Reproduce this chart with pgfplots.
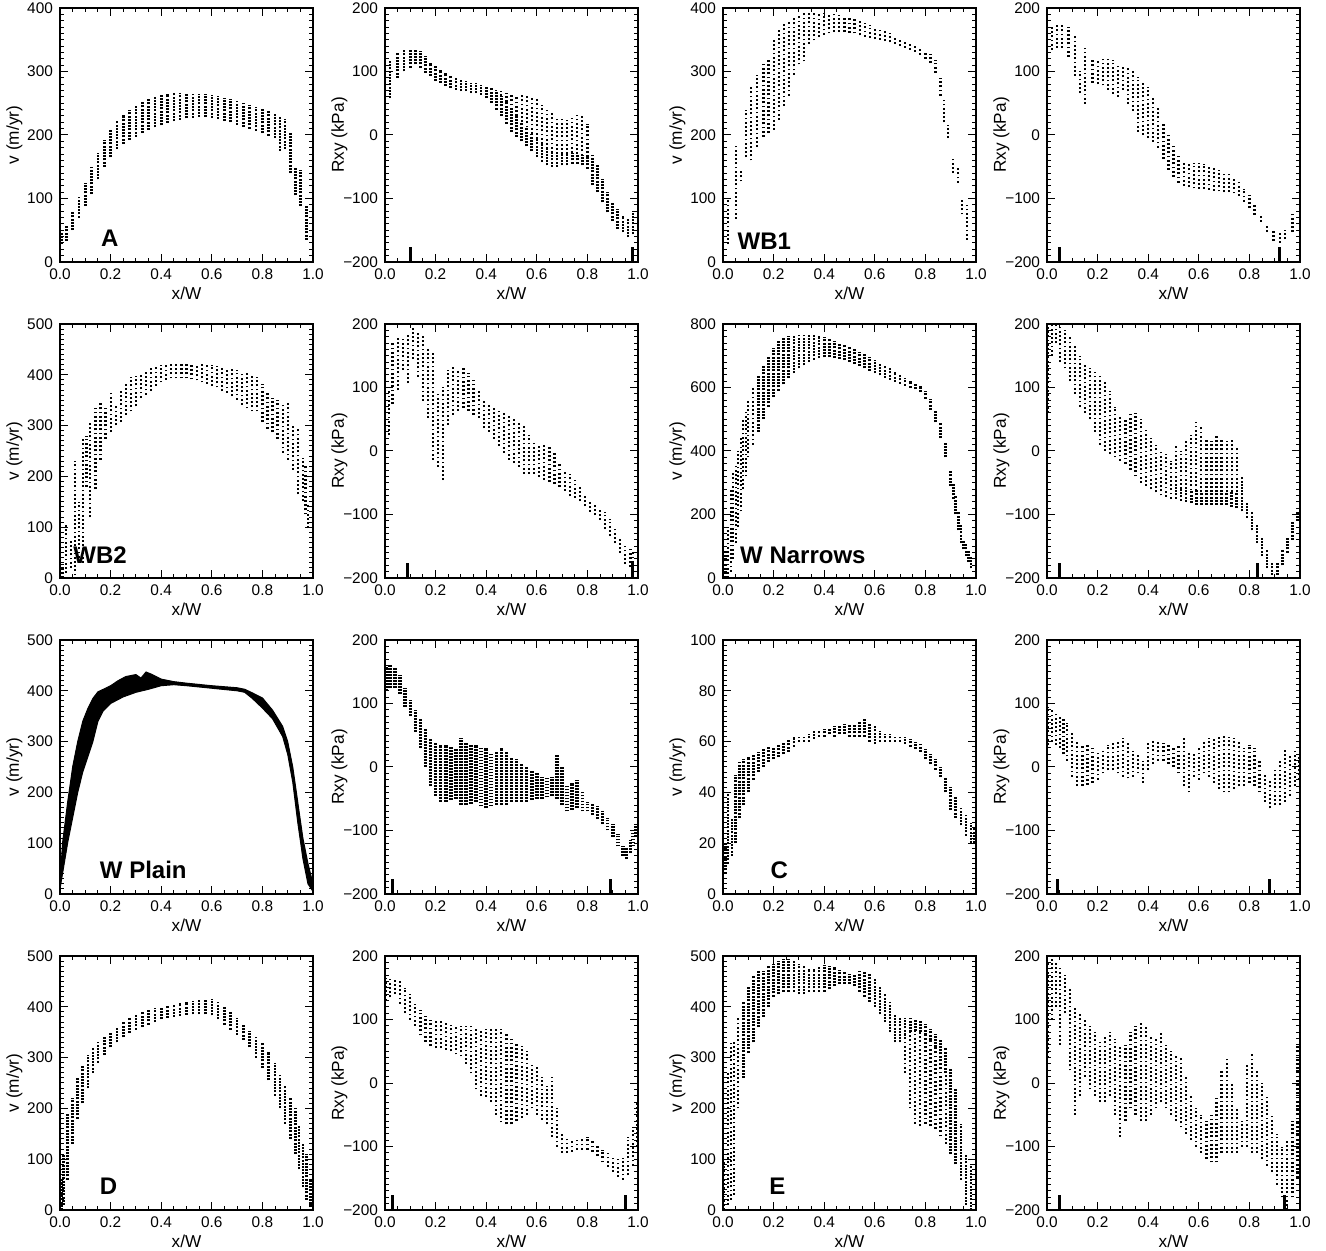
\documentclass[border=0pt]{standalone}
\usepackage{fontspec}
\setmainfont{Liberation Sans}
\usepackage{pgfplots}
\usepackage{pgfplotstable}
\pgfplotsset{compat=1.18}

\newcommand\lbl{\fontsize{7.7}{9}\selectfont}
\newcommand\alb{\fontsize{8.6}{10}\selectfont}
\newcommand\pan{\fontsize{12}{14}\selectfont\bfseries}

\pgfplotsset{
  panel/.style={
    scale only axis, width=126.5pt, height=127pt, anchor=south west,
    xmin=0, xmax=1,
    xtick={0,0.2,0.4,0.6,0.8,1}, xticklabels={0.0,0.2,0.4,0.6,0.8,1.0},
    minor x tick num=3, minor y tick num=9,
    tick align=inside, major tick length=4pt, minor tick length=2pt,
    every tick/.style={black, line width=0.5pt},
    axis line style={line width=0.6pt},
    tick label style={font=\lbl}, label style={font=\alb},
    /pgf/number format/assume math mode=true,
    xlabel={x/W},
    xlabel style={yshift=3.5pt},
    ylabel style={at={(axis description cs:-0.18,0.5)}, anchor=center},
  },
  vel/.style={ylabel={v (m/yr)}, ymin=0, ymax=#1},
  rxy/.style={ylabel={Rxy (kPa)}, ymin=-200, ymax=200,
    ytick={-200,-100,0,100,200}, yticklabels={−200,−100,0,100,200}},
  streak/.style={only marks, mark=*, mark size=0pt, mark options={draw=none, fill=none},
    error bars/y dir=plus, error bars/y explicit, error bars/error mark=none,
    error bars/error bar style={black, line width=1.3pt, dash pattern=on 1pt off 0.6pt}},
  sparse/.style={error bars/error bar style={line width=1.1pt, dash pattern=on 0.9pt off 1.2pt}},
  thick band/.style={error bars/error bar style={line width=1.8pt, dash pattern=on 0.9pt off 0.6pt}},
  mk/.style={only marks, mark=*, mark size=0pt, mark options={draw=none, fill=none},
    error bars/y dir=plus, error bars/y explicit, error bars/error mark=none,
    error bars/error bar style={black, line width=1.5pt, solid}},
}
\newcommand\streaks[2][]{\addplot[streak,#1] table[x=x,y=lo,y error plus expr=\thisrow{hi}-\thisrow{lo}] {#2};}

% ---- A ----
\pgfplotstableread{
x lo hi
0.005 28 50
0.025 33 58
0.05 50 78
0.075 70 102
0.10 88 125
0.125 107 150
0.15 130 172
0.175 150 192
0.20 165 210
0.225 178 222
0.25 186 232
0.275 192 240
0.30 197 246
0.325 203 252
0.35 208 256
0.375 212 260
0.40 215 263
0.425 219 265
0.45 222 266
0.475 224 266
0.50 226 266
0.525 227 265
0.55 228 265
0.575 228 264
0.60 227 263
0.625 225 261
0.65 222 259
0.675 220 257
0.70 216 254
0.725 213 251
0.75 210 248
0.775 207 244
0.80 203 241
0.825 199 238
0.85 195 234
0.87 175 230
0.89 178 225
0.91 140 205
0.93 105 150
0.95 88 145
0.975 35 88
}\avA
\pgfplotstableread{
x lo hi
0.02 58 116
0.05 90 130
0.075 100 135
0.10 106 135
0.12 111 135
0.14 106 132
0.16 98 124
0.18 93 114
0.20 85 108
0.22 82 103
0.24 77 98
0.26 74 93
0.28 71 90
0.30 69 87
0.32 69 85
0.34 66 82
0.36 66 82
0.38 63 79
0.40 58 77
0.42 50 74
0.44 40 70
0.46 30 62
0.48 18 52
0.50 5 40
0.52 -3 30
0.54 -10 20
0.56 -18 12
0.58 -26 2
0.60 -35 -6
0.62 -42 -14
0.64 -48 -22
0.66 -50 -28
0.68 -50 -30
0.70 -48 -30
0.72 -48 -30
0.74 -45 -28
0.76 -45 -30
0.78 -48 -32
0.80 -53 -35
0.82 -79 -32
0.84 -90 -48
0.86 -106 -69
0.88 -122 -90
0.90 -135 -106
0.92 -148 -116
0.94 -153 -127
0.96 -161 -132
0.98 -156 -119
}\arA
\pgfplotstableread{
x lo hi
0.44 70 71
0.46 62 69
0.48 52 66
0.50 40 66
0.52 30 63
0.54 20 63
0.56 12 63
0.58 2 61
0.60 -6 58
0.62 -14 48
0.64 -22 40
0.66 -28 34
0.68 -30 29
0.70 -30 26
0.72 -30 24
0.74 -28 26
0.76 -30 32
0.78 -32 32
0.80 -35 18
}\arAs

% ---- WB1 ----
\pgfplotstableread{
x lo hi
0.02 28 100
0.05 68 186
0.07 127 143
0.09 165 240
0.11 160 276
0.135 181 295
0.16 197 311
0.18 203 322
0.20 208 350
0.22 224 368
0.24 246 376
0.26 262 381
0.28 295 386
0.30 311 390
0.32 316 392
0.34 343 393
0.36 349 393
0.38 354 392
0.40 358 392
0.42 360 391
0.44 362 390
0.46 362 389
0.48 362 387
0.50 361 385
0.52 360 382
0.54 357 379
0.56 355 376
0.58 353 373
0.60 351 370
0.62 350 367
0.64 348 363
0.66 346 360
0.68 343 356
0.70 340 353
0.72 337 350
0.74 334 346
0.76 331 342
0.78 326 337
0.80 320 333
0.82 313 328
0.84 298 318
0.86 262 290
0.875 220 255
0.89 195 215
0.91 140 162
0.93 125 148
0.945 75 100
0.965 35 90
}\avWa
\pgfplotstableread{
x lo hi
0.02 134 173
0.04 137 175
0.06 137 175
0.085 123 170
0.11 93 159
0.13 66 100
0.15 49 137
0.18 82 120
0.20 80 118
0.22 78 120
0.24 71 123
0.26 65 118
0.28 60 112
0.30 71 110
0.32 49 108
0.34 38 100
0.36 5 92
0.38 0 82
0.40 -5 75
0.42 -11 60
0.44 -20 45
0.46 -38 20
0.48 -55 0
0.50 -66 -16
0.52 -75 -33
0.54 -80 -44
0.56 -82 -45
0.58 -84 -44
0.60 -85 -44
0.62 -85 -45
0.64 -86 -48
0.66 -88 -52
0.68 -89 -55
0.70 -90 -58
0.72 -90 -62
0.74 -92 -66
0.76 -96 -70
0.78 -105 -85
0.80 -115 -95
0.82 -126 -110
0.845 -137 -126
0.87 -153 -142
0.895 -167 -150
0.92 -170 -153
0.94 -164 -150
0.97 -153 -120
}\arWa

% ---- WB2 ----
\pgfplotstableread{
x lo hi
0.01 0 30
0.025 10 105
0.045 20 75
0.06 5 230
0.075 40 150
0.09 30 275
0.105 180 280
0.12 120 305
0.14 175 335
0.16 233 348
0.18 274 334
0.20 287 365
0.22 301 341
0.24 307 368
0.26 321 385
0.28 328 395
0.30 338 397
0.32 355 400
0.34 361 408
0.36 368 413
0.38 378 417
0.40 385 419
0.42 390 421
0.44 393 422
0.46 393 422
0.48 393 422
0.50 393 422
0.52 391 422
0.54 389 422
0.56 385 422
0.58 382 422
0.60 378 420
0.62 375 418
0.64 368 416
0.66 365 414
0.68 358 412
0.70 351 410
0.72 341 407
0.74 334 404
0.76 328 400
0.78 328 395
0.80 307 382
0.82 294 368
0.84 287 355
0.86 274 351
0.88 247 345
0.90 233 348
0.92 213 300
0.94 165 297
0.96 152 236
0.97 125 220
0.98 98 145
}\avWb
\pgfplotstableread{
x lo hi
0.015 25 96
0.03 74 172
0.05 96 178
0.07 128 178
0.09 107 183
0.11 145 194
0.13 117 189
0.15 79 183
0.17 52 161
0.19 -14 156
0.21 -25 90
0.23 -46 101
0.25 41 128
0.27 57 134
0.29 63 128
0.31 68 131
0.33 63 123
0.35 57 112
0.37 52 96
0.39 36 79
0.41 30 74
0.43 19 68
0.45 8 66
0.47 -3 60
0.49 -14 57
0.51 -19 52
0.53 -25 46
0.55 -36 41
0.57 -36 25
0.59 -36 16
0.61 -41 11
0.63 -46 11
0.65 -49 8
0.67 -52 -3
0.69 -57 -19
0.71 -63 -30
0.73 -71 -36
0.75 -74 -46
0.77 -79 -57
0.79 -87 -68
0.81 -96 -77
0.83 -101 -82
0.85 -109 -90
0.87 -123 -96
0.89 -134 -107
0.91 -145 -123
0.93 -161 -139
0.95 -178 -150
0.97 -183 -150
0.98 -189 -156
}\arWb

% ---- W Narrows ----
\pgfplotstableread{
x lo hi
0.01 0 90
0.02 0 160
0.03 20 280
0.04 60 330
0.05 110 360
0.06 160 400
0.07 210 440
0.08 280 500
0.09 320 530
0.10 380 560
0.12 420 600
}\avNl
\pgfplotstableread{
x lo hi
0.14 460 640
0.16 500 670
0.18 540 700
0.20 570 725
0.22 590 745
0.24 610 755
0.26 630 762
0.28 645 765
0.30 660 766
0.32 670 766
0.34 680 766
0.36 688 765
0.38 692 763
0.40 695 758
0.42 695 752
0.44 693 746
0.46 690 740
0.48 686 735
0.50 680 728
0.52 674 720
0.54 668 712
0.56 660 704
0.58 652 696
0.60 645 688
0.62 638 678
0.64 630 668
0.66 624 660
0.68 618 650
0.70 612 640
0.72 606 630
0.74 600 622
0.76 594 614
0.78 585 606
0.80 565 590
0.82 530 565
0.84 490 530
0.86 440 490
0.88 380 430
0.90 290 340
0.91 250 300
0.92 200 260
0.93 150 210
0.94 110 170
0.95 90 120
0.96 70 110
0.97 50 90
0.98 30 70
}\avN
\pgfplotstableread{
x lo hi
0.005 60 200
0.02 150 205
0.035 170 205
0.05 140 200
0.07 130 190
0.09 110 180
0.11 90 165
0.13 70 150
0.15 60 135
0.17 50 130
0.19 30 125
0.21 10 120
0.23 0 110
0.25 -5 95
0.27 -10 70
0.29 -15 55
0.31 -20 50
0.33 -30 60
0.35 -40 60
0.37 -50 50
0.39 -55 35
0.41 -60 20
0.43 -65 10
0.45 -70 0
0.47 -72 -5
0.49 -75 -15
}\arNa
\pgfplotstableread{
x lo hi
0.51 -75 -55
0.53 -78 -60
0.55 -80 -60
0.57 -82 -62
0.59 -85 -62
0.61 -85 -65
0.63 -85 -65
0.65 -85 -65
0.67 -85 -65
0.69 -85 -65
0.71 -85 -65
0.73 -88 -65
0.75 -90 -65
0.77 -95 -40
0.79 -105 -80
0.81 -125 -95
0.83 -145 -115
0.85 -165 -135
0.87 -185 -155
0.89 -195 -175
0.91 -195 -175
0.93 -180 -155
0.95 -160 -135
0.97 -140 -110
0.99 -110 -95
}\arN
\pgfplotstableread{
x lo hi
0.51 -55 10
0.53 -60 0
0.55 -60 15
0.57 -62 25
0.59 -62 45
0.61 -65 40
0.63 -65 20
0.65 -65 15
0.67 -65 25
0.69 -65 20
0.71 -65 15
0.73 -65 20
0.75 -65 5
}\arNs

% ---- W Plain ----
\pgfplotstableread{
x y
0 20
0.005 60
0.01 100
0.02 140
0.03 180
0.05 250
0.07 300
0.09 340
0.11 365
0.13 385
0.15 398
0.18 405
0.20 410
0.23 420
0.26 428
0.30 432
0.32 425
0.34 437
0.36 433
0.40 423
0.45 418
0.50 415
0.60 410
0.70 406
0.73 403
0.76 396
0.80 386
0.84 362
0.88 330
0.90 300
0.92 250
0.94 180
0.96 110
0.98 60
1.0 20
1.0 5
0.98 20
0.96 70
0.94 140
0.92 220
0.90 275
0.88 310
0.84 345
0.80 366
0.76 385
0.73 397
0.70 400
0.60 405
0.50 410
0.45 412
0.40 410
0.35 403
0.30 397
0.25 388
0.20 375
0.17 360
0.15 340
0.13 300
0.11 270
0.09 240
0.07 200
0.05 150
0.03 100
0.01 40
0 10
}\pvP
\pgfplotstableread{
x lo hi
0.005 120 158
0.02 125 160
0.04 125 158
0.06 115 145
0.08 95 125
0.10 80 105
0.12 55 90
0.14 30 75
0.16 0 60
0.18 -30 45
0.20 -45 40
0.22 -55 35
0.24 -55 35
0.26 -52 32
0.28 -50 30
0.30 -60 45
0.32 -60 38
0.34 -58 35
0.36 -55 35
0.38 -62 32
0.40 -65 30
0.42 -62 22
0.44 -60 25
0.46 -60 30
0.48 -60 25
0.50 -55 15
0.52 -55 12
0.54 -55 5
0.56 -55 0
0.58 -52 -5
0.60 -50 -10
0.62 -50 -15
0.64 -48 -15
0.66 -45 -15
0.68 -50 20
0.70 -60 0
0.72 -70 -30
0.74 -68 -25
0.76 -65 -20
0.78 -70 -40
0.80 -70 -55
0.82 -75 -58
0.84 -82 -62
0.86 -90 -70
0.88 -100 -80
0.90 -110 -90
0.92 -125 -105
0.94 -140 -125
0.955 -145 -128
0.97 -135 -115
0.98 -125 -100
0.99 -110 -90
}\arP

% ---- C ----
\pgfplotstableread{
x lo hi
0.01 8 20
0.02 12 40
0.035 15 30
0.05 20 47
0.065 30 52
0.08 35 53
0.10 40 54
0.12 45 55
0.14 48 56
0.16 50 57
0.18 52 58
0.20 53 58
0.22 54 59
0.24 55 60
0.26 56 61
0.28 58 62
0.30 60 62
0.32 60 62
0.34 60 63
0.36 61 64
0.38 62 64
0.40 62 65
0.42 63 65
0.44 62 66
0.46 63 66
0.48 63 67
0.50 62 67
0.52 62 67
0.54 62 68
0.56 62 69
0.58 60 67
0.60 59 66
0.62 60 64
0.64 60 63
0.66 60 63
0.68 60 62
0.70 60 62
0.72 59 62
0.74 58 61
0.76 57 60
0.78 56 59
0.80 53 57
0.82 51 55
0.84 49 53
0.86 46 50
0.88 40 46
0.90 33 42
0.92 30 38
0.94 27 34
0.96 23 31
0.98 20 28
0.995 20 26
}\avC
\pgfplotstableread{
x lo hi
0.005 35 95
0.02 40 90
0.035 35 85
0.05 30 80
0.065 20 75
0.08 10 70
0.10 -15 55
0.12 -30 40
0.14 -30 35
0.16 -28 35
0.18 -25 30
0.20 -20 25
0.22 -10 25
0.24 -5 35
0.26 -5 40
0.28 -10 42
0.30 -15 45
0.32 -18 40
0.34 -15 25
0.36 -10 20
0.38 -25 10
0.40 -5 40
0.42 5 42
0.44 10 40
0.46 10 38
0.48 5 35
0.50 0 30
0.52 -10 35
0.54 -30 48
0.56 -40 25
0.58 -15 20
0.60 -20 30
0.62 -10 40
0.64 -15 45
0.66 -25 45
0.68 -35 48
0.70 -40 50
0.72 -40 48
0.74 -35 45
0.76 -30 40
0.78 -30 30
0.80 -25 35
0.82 -30 30
0.84 -40 10
0.86 -55 -10
0.88 -65 -20
0.90 -60 -5
0.92 -60 10
0.94 -55 30
0.96 -45 20
0.98 -30 25
0.995 -20 20
}\arC

% ---- D ----
\pgfplotstableread{
x lo hi
0.005 0 60
0.015 10 110
0.03 60 190
0.05 130 220
0.07 180 260
0.09 210 285
0.11 240 305
0.13 270 320
0.15 290 330
0.175 305 340
0.20 320 350
0.225 330 360
0.25 340 370
0.275 348 378
0.30 355 385
0.325 360 390
0.35 365 395
0.375 370 398
0.40 375 400
0.425 378 403
0.45 380 405
0.475 382 408
0.50 384 410
0.525 385 412
0.55 385 413
0.575 385 415
0.60 383 415
0.625 375 410
0.65 365 402
0.675 355 390
0.70 345 378
0.725 335 365
0.75 320 352
0.775 300 340
0.80 280 330
0.825 255 312
0.85 225 290
0.87 200 265
0.89 170 245
0.91 140 220
0.93 110 200
0.945 80 165
0.96 45 130
0.975 20 110
0.99 5 60
}\avD
\pgfplotstableread{
x lo hi
0.005 130 170
0.02 135 168
0.04 140 165
0.06 125 160
0.08 110 150
0.10 100 140
0.12 90 125
0.14 75 115
0.16 65 105
0.18 58 100
0.20 55 100
0.22 55 98
0.24 52 95
0.26 50 92
0.28 45 90
0.30 42 90
0.32 30 90
0.34 15 90
0.36 -10 88
0.38 -20 85
0.40 -22 85
0.42 -30 85
0.44 -50 88
0.46 -62 85
0.48 -65 80
0.50 -65 70
0.52 -60 62
0.54 -55 58
0.56 -50 50
0.58 -40 30
0.60 -50 25
0.62 -58 10
0.64 -65 -5
0.66 -85 10
0.68 -100 -40
0.70 -110 -80
0.72 -110 -88
0.74 -108 -90
0.76 -105 -90
0.78 -105 -88
0.80 -105 -85
0.82 -108 -92
0.84 -115 -98
0.86 -125 -105
0.88 -132 -110
0.90 -140 -115
0.92 -148 -120
0.94 -152 -118
0.96 -145 -85
0.98 -130 -70
0.995 -100 -30
}\arD

% ---- E ----
\pgfplotstableread{
x lo hi
0.005 0 100
0.02 10 270
0.03 20 330
0.045 30 330
0.06 200 380
}\avEl
\pgfplotstableread{
x lo hi
0.08 260 410
0.10 310 440
0.12 330 460
0.14 360 470
0.16 380 470
0.18 400 480
0.20 420 485
0.22 425 490
0.24 430 495
0.26 430 495
0.28 430 490
0.30 425 485
0.32 425 480
0.34 430 475
0.36 430 475
0.38 430 478
0.40 430 482
0.42 435 480
0.44 440 478
0.46 445 472
0.48 445 468
0.50 445 465
0.52 440 465
0.54 430 470
0.56 420 470
0.58 410 465
0.60 400 455
0.62 385 440
0.64 370 425
0.66 350 410
0.68 330 385
0.70 330 378
0.72 345 378
0.74 350 378
0.76 352 376
0.78 350 372
0.80 345 366
0.82 335 356
0.84 320 346
0.86 300 336
0.88 270 320
0.90 110 280
0.92 90 240
0.94 60 170
0.96 10 110
0.98 0 90
}\avE
\pgfplotstableread{
x lo hi
0.72 270 345
0.74 200 350
0.76 170 352
0.78 165 350
0.80 170 345
0.82 165 335
0.84 160 320
0.86 145 300
0.88 130 270
}\avEs
\pgfplotstableread{
x lo hi
0.005 40 190
0.02 100 195
0.035 120 190
0.05 60 185
0.07 110 170
0.09 20 150
0.11 -50 120
0.13 -20 110
0.15 10 100
0.17 -10 90
0.19 -20 80
0.21 -30 65
0.23 -30 75
0.25 -20 80
0.27 -50 70
0.29 -85 60
0.31 -60 60
0.33 -40 80
0.35 -50 90
0.37 -60 95
0.39 -60 90
0.41 -50 75
0.43 -40 70
0.45 -30 80
0.47 -40 60
0.49 -50 50
0.51 -60 45
0.53 -70 40
0.55 -80 10
0.57 -90 -20
0.59 -100 -40
0.61 -110 -50
0.63 -120 -60
0.65 -125 -50
0.67 -125 -20
0.69 -110 20
0.71 -110 40
0.73 -110 0
0.75 -110 -40
0.77 -100 -60
0.79 -100 30
0.81 -110 45
0.83 -110 20
0.85 -120 0
0.87 -130 -20
0.89 -140 -50
0.91 -160 -80
0.93 -180 -100
0.95 -200 -90
0.97 -180 -60
0.99 -150 60
}\arE

\begin{document}
\begin{tikzpicture}
\useasboundingbox (0,0) rectangle (663pt,625.5pt);

% row 1
\begin{axis}[panel, vel=400, ytick distance=100, at={(30pt,494.5pt)}]
\streaks{\avA}
\node[anchor=west,font=\pan] at (rel axis cs:0.135,0.094) {A};
\end{axis}
\begin{axis}[panel, rxy, at={(192.5pt,494.5pt)}]
\streaks{\arA}
\streaks[sparse]{\arAs}
\addplot[mk] coordinates {(0.10,-200) +- (0,24) (0.98,-200) +- (0,24)};
\end{axis}
\begin{axis}[panel, vel=400, ytick distance=100, at={(361.5pt,494.5pt)}]
\streaks[sparse]{\avWa}
\node[anchor=west,font=\pan] at (rel axis cs:0.03,0.08) {WB1};
\end{axis}
\begin{axis}[panel, rxy, at={(523.5pt,494.5pt)}]
\streaks[sparse]{\arWa}
\addplot[mk] coordinates {(0.05,-200) +- (0,24) (0.92,-200) +- (0,24)};
\end{axis}

% row 2
\begin{axis}[panel, vel=500, ytick distance=100, at={(30pt,336.5pt)}]
\streaks[sparse]{\avWb}
\node[anchor=west,font=\pan] at (rel axis cs:0.025,0.09) {WB2};
\end{axis}
\begin{axis}[panel, rxy, at={(192.5pt,336.5pt)}]
\streaks[sparse]{\arWb}
\addplot[mk] coordinates {(0.09,-200) +- (0,24) (0.98,-200) +- (0,24)};
\end{axis}
\begin{axis}[panel, vel=800, ytick distance=200, at={(361.5pt,336.5pt)}]
\streaks[sparse]{\avNl}
\streaks{\avN}
\node[anchor=west,font=\pan] at (rel axis cs:0.04,0.09) {W Narrows};
\end{axis}
\begin{axis}[panel, rxy, at={(523.5pt,336.5pt)}]
\streaks[sparse]{\arNa}
\streaks{\arN}
\streaks[sparse]{\arNs}
\addplot[mk] coordinates {(0.05,-200) +- (0,24) (0.83,-200) +- (0,24)};
\end{axis}

% row 3
\begin{axis}[panel, vel=500, ytick distance=100, at={(30pt,178.5pt)}]
\addplot[fill=black, draw=black, line width=0.5pt] table[x=x,y=y] {\pvP};
\node[anchor=west,font=\pan] at (rel axis cs:0.13,0.094) {W Plain};
\end{axis}
\begin{axis}[panel, rxy, at={(192.5pt,178.5pt)}]
\streaks[thick band]{\arP}
\addplot[mk] coordinates {(0.03,-200) +- (0,24) (0.89,-200) +- (0,24)};
\end{axis}
\begin{axis}[panel, vel=100, ytick distance=20, at={(361.5pt,178.5pt)}]
\streaks{\avC}
\node[anchor=west,font=\pan] at (rel axis cs:0.16,0.094) {C};
\end{axis}
\begin{axis}[panel, rxy, at={(523.5pt,178.5pt)}]
\streaks[sparse]{\arC}
\addplot[mk] coordinates {(0.04,-200) +- (0,24) (0.88,-200) +- (0,24)};
\end{axis}

% row 4
\begin{axis}[panel, vel=500, ytick distance=100, at={(30pt,20.5pt)}]
\streaks{\avD}
\node[anchor=west,font=\pan] at (rel axis cs:0.13,0.094) {D};
\end{axis}
\begin{axis}[panel, rxy, at={(192.5pt,20.5pt)}]
\streaks[sparse]{\arD}
\addplot[mk] coordinates {(0.03,-200) +- (0,24) (0.95,-200) +- (0,24)};
\end{axis}
\begin{axis}[panel, vel=500, ytick distance=100, at={(361.5pt,20.5pt)}]
\streaks[sparse]{\avEl}
\streaks{\avE}
\streaks[sparse]{\avEs}
\node[anchor=west,font=\pan] at (rel axis cs:0.155,0.094) {E};
\end{axis}
\begin{axis}[panel, rxy, at={(523.5pt,20.5pt)}]
\streaks[sparse]{\arE}
\addplot[mk] coordinates {(0.05,-200) +- (0,24) (0.94,-200) +- (0,24)};
\end{axis}
\end{tikzpicture}
\end{document}
